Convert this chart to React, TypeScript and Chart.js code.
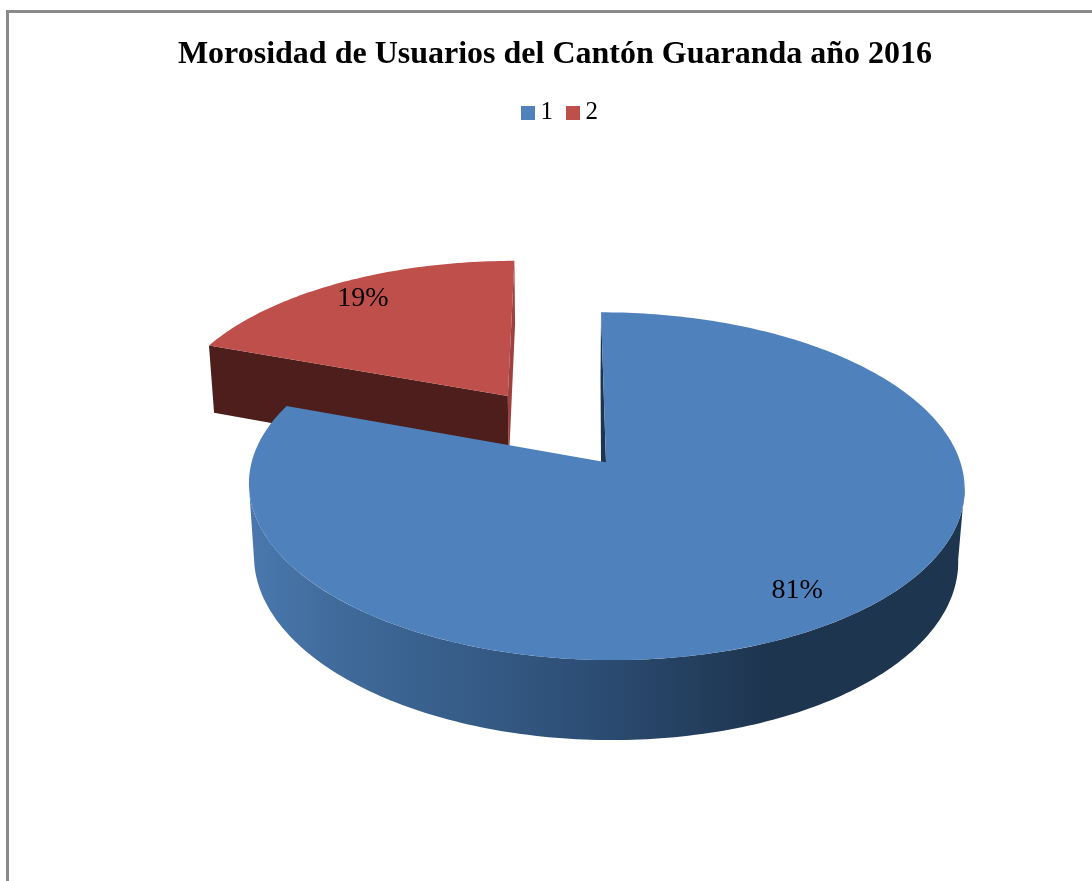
import React, { useEffect, useRef } from "react";
import { Chart, registerables } from "chart.js";

Chart.register(...registerables);

const titleText = "Morosidad de Usuarios del Cantón Guaranda año 2016";
const categories = ["1", "2"];
const values = [80.6, 19.4];
const faceColors = ["#4F81BD", "#BE4F4B"];
const explodeFractions = [0, 0.5];
const labelRadii = [0.834, 0.85];
const blueWallStops = ["#4A78AE", "#406B9B", "#2E5078", "#1E3550", "#1E3550"];
const redWallColor = "#4D1E1C";
const redSideColor = "#9E403D";
const blueInnerWall = "#1E3550";
const serif = "'Liberation Serif', 'Times New Roman', serif";

const rad = (d: number) => (d * Math.PI) / 180;

// offset of the pie's vertex from the centre of the chart area
const pieShiftX = 51;

// perspective projection of the pie's plane, relative to the centre and radius of the chart's own arc
function makeProjector(cx: number, cy: number, R: number) {
  const p = 0.138;
  const b = 1.0844 * R;
  const a = 0.522 * R;
  const depth = 0.2245 * R;
  const r = 0.016;
  const vanishX = cx - 0.1254 * R;
  const u0 = 0.1254 / 1.0844;
  return (u: number, v: number, z: number) => {
    const w = 1 - p * v + r * z;
    return { x: vanishX + (b * (u + u0)) / w, y: cy + (a * v + depth * z) / w };
  };
}

const pie3d = {
  id: "pie3d",
  afterLayout(chart: any) {
    chart.legend.left += 7.5;
    chart.legend.right += 7.5;
  },
  beforeDatasetDraw(chart: any) {
    const ctx = chart.ctx;
    const arcs = chart.getDatasetMeta(0).data;
    const R = arcs[0].outerRadius;
    const project = makeProjector(arcs[0].x + pieShiftX, arcs[0].y, R);
    const offsetOf = (i: number) => {
      const arc = arcs[i];
      const mid = (arc.startAngle + arc.endAngle) / 2;
      return { ou: Math.cos(mid) * explodeFractions[i], ov: Math.sin(mid) * explodeFractions[i] };
    };
    const trace = (pts: { x: number; y: number }[], color: any) => {
      ctx.beginPath();
      pts.forEach((q, k) => (k ? ctx.lineTo(q.x, q.y) : ctx.moveTo(q.x, q.y)));
      ctx.closePath();
      ctx.fillStyle = color;
      ctx.fill();
    };
    const rim = (i: number, from: number, to: number, z: number) => {
      const { ou, ov } = offsetOf(i);
      const steps = Math.max(8, Math.ceil(Math.abs(to - from) / rad(1)));
      const out = [];
      for (let k = 0; k <= steps; k++) {
        const t = from + ((to - from) * k) / steps;
        out.push(project(ou + Math.cos(t), ov + Math.sin(t), z));
      }
      return out;
    };
    const radialWall = (i: number, angle: number, color: any, vertexShift = 0) => {
      const { ou, ov } = offsetOf(i);
      const topV = project(ou, ov, 0);
      const botV = project(ou, ov, 1);
      botV.x += vertexShift;
      const topR = project(ou + Math.cos(angle), ov + Math.sin(angle), 0);
      const botR = project(ou + Math.cos(angle), ov + Math.sin(angle), 1);
      trace([topV, topR, botR, botV], color);
    };
    const face = (i: number) => {
      const { ou, ov } = offsetOf(i);
      trace([project(ou, ov, 0), ...rim(i, arcs[i].startAngle, arcs[i].endAngle, 0)], faceColors[i]);
    };

    ctx.save();
    // exploded slice behind
    radialWall(1, arcs[1].endAngle, redSideColor);
    radialWall(1, arcs[1].startAngle, redWallColor);
    face(1);
    // main slice
    radialWall(0, arcs[0].startAngle, blueInnerWall, -0.012 * R);
    const tangentA = rad(8);
    const tangentB = rad(172);
    const front = [...rim(0, tangentA, tangentB, 0), ...rim(0, tangentA, tangentB, 1).reverse()];
    const xs = front.map((q) => q.x);
    const minX = Math.min(...xs);
    const maxX = Math.max(...xs);
    const grad = ctx.createLinearGradient(minX, 0, maxX, 0);
    const stopAt = [0, 0.12, 0.45, 0.72, 1];
    blueWallStops.forEach((c, k) => grad.addColorStop(stopAt[k], c));
    trace(front, grad);
    face(0);
    ctx.restore();
    return false;
  },
  afterDatasetsDraw(chart: any) {
    const ctx = chart.ctx;
    const arcs = chart.getDatasetMeta(0).data;
    const R = arcs[0].outerRadius;
    const project = makeProjector(arcs[0].x + pieShiftX, arcs[0].y, R);
    const total = values.reduce((s, v) => s + v, 0);
    ctx.save();
    ctx.font = `28px ${serif}`;
    ctx.fillStyle = "#000";
    ctx.textAlign = "center";
    ctx.textBaseline = "middle";
    arcs.forEach((arc: any, i: number) => {
      const mid = (arc.startAngle + arc.endAngle) / 2;
      const rr = labelRadii[i] + explodeFractions[i];
      const q = project(Math.cos(mid) * rr, Math.sin(mid) * rr, 0);
      ctx.fillText(`${Math.round((values[i] / total) * 100)}%`, q.x, q.y);
    });
    ctx.restore();
  },
};

function swatch(color: string) {
  const c = document.createElement("canvas");
  c.width = 14;
  c.height = 14;
  const g = c.getContext("2d") as CanvasRenderingContext2D;
  g.fillStyle = color;
  g.fillRect(0, 0, 14, 14);
  return c;
}

export default function App() {
  const ref = useRef<HTMLCanvasElement>(null);
  useEffect(() => {
    const swatches = faceColors.map(swatch);
    const chart = new Chart(ref.current as HTMLCanvasElement, {
      type: "pie",
      data: {
        labels: categories,
        datasets: [{ data: values, backgroundColor: faceColors, borderWidth: 0 }],
      },
      options: {
        animation: false,
        responsive: false,
        events: [],
        layout: { padding: { left: 18, right: 0, top: 0, bottom: 92 } },
        plugins: {
          title: {
            display: true,
            text: titleText,
            color: "#000",
            font: { family: serif, size: 32, weight: "bold" },
            padding: { top: 36, bottom: 7 },
          },
          legend: {
            display: true,
            position: "top",
            labels: {
              color: "#000",
              usePointStyle: true,
              pointStyleWidth: 1,
              boxHeight: 14,
              padding: 19,
              font: { family: serif, size: 25 },
              generateLabels: () =>
                categories.map((text, i) => ({
                  text,
                  index: i,
                  hidden: false,
                  fontColor: "#000",
                  fillStyle: faceColors[i],
                  strokeStyle: faceColors[i],
                  lineWidth: 0,
                  pointStyle: swatches[i],
                })),
            },
          },
          tooltip: { enabled: false },
        },
      } as any,
      plugins: [pie3d as any],
    });
    return () => chart.destroy();
  }, []);
  return (
    <div style={{ position: "fixed", left: 0, top: 0, width: 1092, height: 881, background: "#fff", overflow: "hidden" }}>
      <canvas ref={ref} width={1092} height={881} style={{ display: "block" }} />
      <div
        style={{
          position: "absolute",
          left: 6,
          top: 10,
          right: 0,
          bottom: 0,
          borderLeft: "3px solid #8A8A8A",
          borderTop: "3px solid #8A8A8A",
        }}
      />
    </div>
  );
}
